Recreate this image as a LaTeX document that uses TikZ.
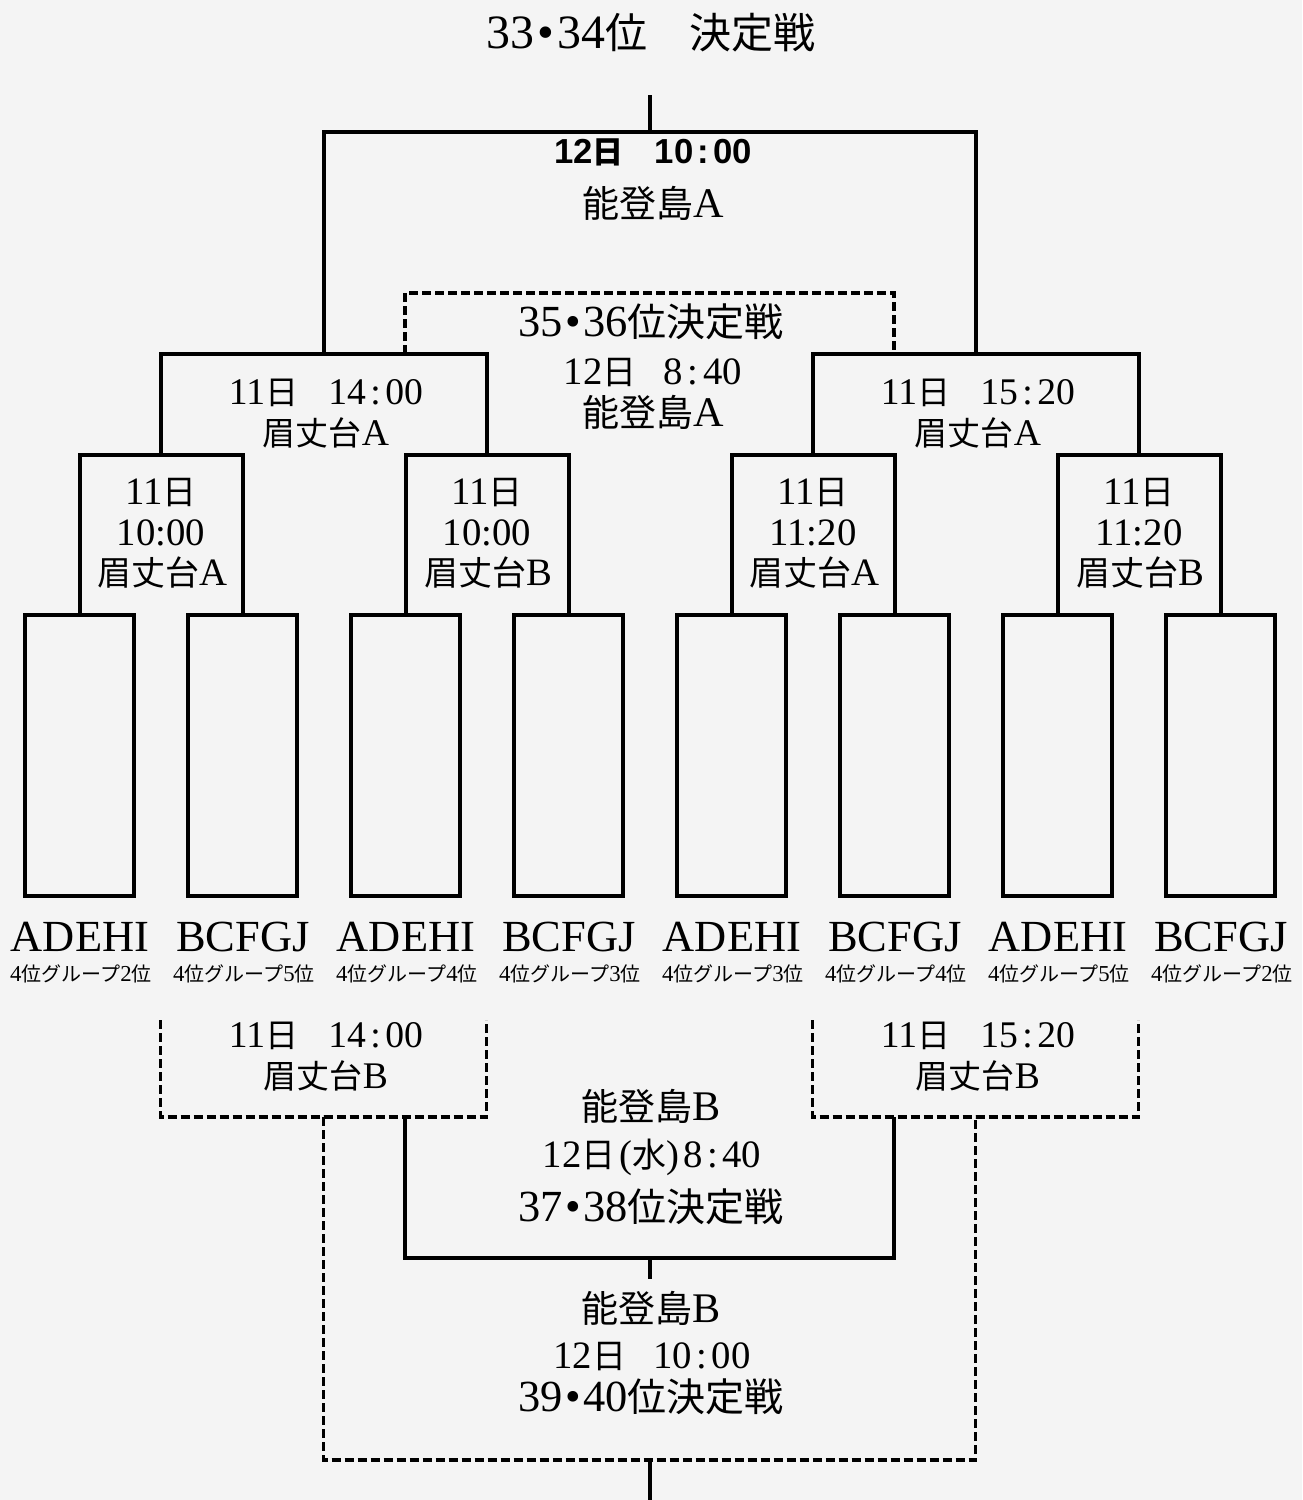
\documentclass[tikz,border=0pt]{standalone}
\usepackage{fontspec}
\setmainfont{Liberation Serif}[Scale=1.14]
\setsansfont{Liberation Sans}[Scale=1.12]
\newfontfamily\cjk{Noto Sans CJK JP}
\newcommand\J[1]{{\cjk #1}}
\newcommand\cl{\kern0.12em:\kern0.12em}
\newcommand\dt{\kern0.06em•\kern0.06em}
\definecolor{bgc}{HTML}{F4F4F4}
\begin{document}
\begin{tikzpicture}[x=1pt,y=-1pt,
  solidln/.style={line width=4pt, line join=miter},
  dashln/.style={line width=3.8pt, dash pattern=on 9pt off 4pt},
  team/.style={draw, line width=4pt, minimum width=109pt, minimum height=281pt, inner sep=0pt},
  lab/.style={inner sep=0pt, font=\fontsize{#1}{#1}\selectfont}]
\fill[bgc] (0,0) rectangle (1302,1500);
\useasboundingbox (0,0) rectangle (1302,1500);

% team boxes
\foreach \i in {1,...,8}{
  \node[team] (t\i) at ({79.5+163*(\i-1)},755.5) {};
}

% bracket coordinates
\coordinate (m1) at (160.5,455);
\coordinate (m2) at (486.5,455);
\coordinate (m3) at (812.5,455);
\coordinate (m4) at (1138.5,455);
\coordinate (n1) at (323.5,354);
\coordinate (n2) at (975.5,354);
\coordinate (f) at (649.5,132);
\coordinate (top) at (649.5,95);

\draw[solidln] (t1.north) |- (m1) -| (t2.north);
\draw[solidln] (t3.north) |- (m2) -| (t4.north);
\draw[solidln] (t5.north) |- (m3) -| (t6.north);
\draw[solidln] (t7.north) |- (m4) -| (t8.north);
\draw[solidln] (m1) |- (n1) -| (m2);
\draw[solidln] (m3) |- (n2) -| (m4);
\draw[solidln] (n1) |- (f) -| (n2);
\draw[solidln] (f) -- (top);

% 35-36 dashed
\coordinate (d1) at (405,354);
\coordinate (d2) at (894,354);
\coordinate (d3) at (649.5,293);
\draw[dashln] (d1) |- (d3) -| (d2);

% bottom dashed loser brackets
\coordinate (la) at (160.5,1020);
\coordinate (lb) at (486.5,1020);
\coordinate (lm) at (323.5,1117);
\coordinate (ra) at (812.5,1020);
\coordinate (rb) at (1138.5,1020);
\coordinate (rm) at (975.5,1117);
\draw[dashln] (la) |- (lm) -| (lb);
\draw[dashln] (ra) |- (rm) -| (rb);

% 37-38 solid
\coordinate (s1) at (405,1117);
\coordinate (s2) at (894,1117);
\coordinate (s3) at (649.5,1258);
\coordinate (s4) at (649.5,1279);
\draw[solidln] (s1) |- (s3) -| (s2);
\draw[solidln] (s3) -- (s4);

% 39-40 dashed
\coordinate (b3) at (649.5,1460);
\coordinate (bot) at (649.5,1500);
\draw[dashln] (lm) |- (b3) -| (rm);
\draw[solidln] (b3) -- (bot);

% texts top
\node[lab=42] (title) at (651,33) {33\dt34\J{位　決定戦}};
\node[lab=31, font=\fontsize{31}{31}\selectfont\sffamily\bfseries] (fdate) at (653,152) {12\J{日}\hspace{0.9em}10\cl 00};
\node[lab=37] (fven) at (653,203) {\J{能登島}A};
\node[lab=39] (q35) at (651,322) {35\dt36\J{位決定戦}};
\node[lab=34] (q35d) at (653,373) {12\J{日}\hspace{0.7em}8\cl 40};
\node[lab=37] (q35v) at (653,412) {\J{能登島}A};

% round 2
\node[lab=33] (r2ld) at (326,393) {11\J{日}\hspace{0.8em}14\cl 00};
\node[lab=33] (r2lv) at (326,433) {\J{眉丈台}A};
\node[lab=33] (r2rd) at (978,393) {11\J{日}\hspace{0.8em}15\cl 20};
\node[lab=33] (r2rv) at (978,433) {\J{眉丈台}A};

% round 1
\node[lab=34] (a1) at (161,493) {11\J{日}};
\node[lab=34] (a2) at (161,533) {10:00};
\node[lab=34] (a3) at (162,573) {\J{眉丈台}A};
\node[lab=34] (b1) at (487,493) {11\J{日}};
\node[lab=34] (b2) at (487,533) {10:00};
\node[lab=34] (b3t) at (488,573) {\J{眉丈台}B};
\node[lab=34] (c1) at (813,493) {11\J{日}};
\node[lab=34] (c2) at (813,533) {11:20};
\node[lab=34] (c3) at (814,573) {\J{眉丈台}A};
\node[lab=34] (e1) at (1139,493) {11\J{日}};
\node[lab=34] (e2) at (1139,533) {11:20};
\node[lab=34] (e3) at (1140,573) {\J{眉丈台}B};

% team names
\node[lab=39] (n1a) at (80,937) {ADEHI};
\node[lab=39] (n2a) at (243,937) {BCFGJ};
\node[lab=39] (n3a) at (406,937) {ADEHI};
\node[lab=39] (n4a) at (569,937) {BCFGJ};
\node[lab=39] (n5a) at (732,937) {ADEHI};
\node[lab=39] (n6a) at (895,937) {BCFGJ};
\node[lab=39] (n7a) at (1058,937) {ADEHI};
\node[lab=39] (n8a) at (1221,937) {BCFGJ};
\node[lab=20] (g1) at (81,974) {4\J{位グループ}2\J{位}};
\node[lab=20] (g2) at (244,974) {4\J{位グループ}5\J{位}};
\node[lab=20] (g3) at (407,974) {4\J{位グループ}4\J{位}};
\node[lab=20] (g4) at (570,974) {4\J{位グループ}3\J{位}};
\node[lab=20] (g5) at (733,974) {4\J{位グループ}3\J{位}};
\node[lab=20] (g6) at (896,974) {4\J{位グループ}4\J{位}};
\node[lab=20] (g7) at (1059,974) {4\J{位グループ}5\J{位}};
\node[lab=20] (g8) at (1222,974) {4\J{位グループ}2\J{位}};

% bottom texts
\node[lab=33] (l2d) at (326,1036) {11\J{日}\hspace{0.8em}14\cl 00};
\node[lab=33] (l2v) at (326,1076) {\J{眉丈台}B};
\node[lab=33] (r2d) at (978,1036) {11\J{日}\hspace{0.8em}15\cl 20};
\node[lab=33] (r2v) at (978,1076) {\J{眉丈台}B};
\node[lab=37] (p37v) at (651,1106) {\J{能登島}B};
\node[lab=34] (p37d) at (652,1157) {12\J{日}\kern0.1em(\J{水})\kern0.1em 8\cl 40};
\node[lab=39] (p37) at (651,1207) {37\dt38\J{位決定戦}};
\node[lab=37] (p39v) at (651,1308) {\J{能登島}B};
\node[lab=34] (p39d) at (652,1357) {12\J{日}\hspace{0.7em}10\cl 00};
\node[lab=39] (p39) at (651,1397) {39\dt40\J{位決定戦}};
\end{tikzpicture}
\end{document}
